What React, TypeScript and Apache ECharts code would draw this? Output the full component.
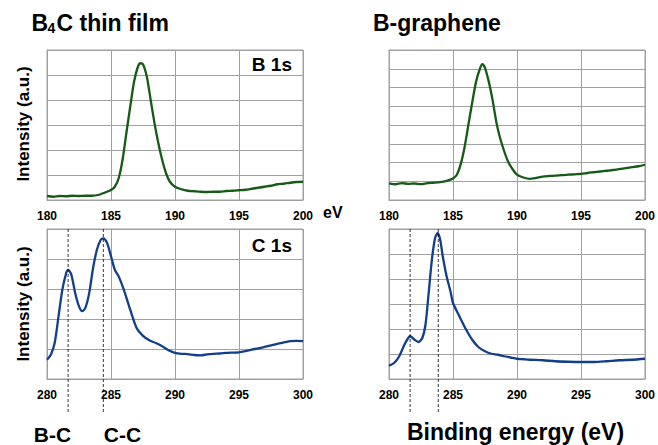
import React, { useEffect, useRef } from "react";
import * as echarts from "echarts";

// B 1s, B4C thin film
const b4cB1sEnergy = [180,180.5,181,181.5,182,182.5,183,183.5,184,184.5,185,185.3,185.6,185.9,186.2,186.5,186.8,187.1,187.3,187.5,187.8,188.1,188.4,188.7,189.0,189.3,189.6,190.0,190.5,191,191.5,192,192.5,193,193.5,194,194.5,195,195.5,196,196.5,197,197.5,198,198.5,199,199.5,200];
const b4cB1sIntensity = [0.16,0.13,0.16,0.15,0.17,0.16,0.17,0.17,0.2,0.29,0.4,0.53,0.87,1.6,2.67,3.73,4.73,5.33,5.47,5.43,4.93,4.0,3.07,2.27,1.6,1.07,0.73,0.53,0.43,0.37,0.35,0.33,0.32,0.33,0.33,0.36,0.37,0.39,0.41,0.45,0.49,0.53,0.57,0.63,0.65,0.69,0.72,0.73];

// B 1s, B-graphene
const bgrB1sEnergy = [180,180.5,181,181.5,182,182.5,183,183.5,184,184.5,185,185.3,185.6,185.9,186.2,186.5,186.8,187.1,187.3,187.5,187.8,188.1,188.4,188.7,189.0,189.3,189.6,190.0,190.5,191,191.5,192,192.5,193,193.5,194,194.5,195,195.5,196,196.5,197,197.5,198,198.5,199,199.5,200];
const bgrB1sIntensity = [0.89,0.84,0.9,0.86,0.88,0.85,0.9,0.92,0.95,1.02,1.15,1.35,1.9,2.8,4.0,5.2,6.3,7.0,7.25,7.05,6.3,5.3,4.1,3.25,2.6,2.05,1.7,1.35,1.2,1.13,1.18,1.25,1.28,1.3,1.33,1.35,1.37,1.39,1.44,1.48,1.52,1.56,1.6,1.65,1.7,1.75,1.8,1.88];

// C 1s, B4C thin film
const b4cC1sEnergy = [280,280.3,280.6,280.9,281.2,281.5,281.65,281.9,282.2,282.5,282.75,283.0,283.3,283.6,283.9,284.2,284.4,284.7,285.0,285.3,285.6,286.0,286.5,287,287.5,288,288.5,289,289.5,290,290.5,291,291.5,292,292.5,293,293.5,294,294.5,295,295.5,296,296.5,297,297.5,298,298.5,299,299.5,300];
const b4cC1sIntensity = [0.64,0.81,1.2,2.09,2.98,3.53,3.64,3.48,2.87,2.42,2.26,2.37,2.87,3.7,4.31,4.64,4.69,4.53,4.09,3.64,3.42,2.98,2.31,1.7,1.44,1.29,1.2,1.09,0.96,0.87,0.84,0.83,0.8,0.79,0.82,0.84,0.85,0.87,0.88,0.89,0.93,0.98,1.02,1.07,1.12,1.17,1.22,1.26,1.27,1.26];

// C 1s, B-graphene
const bgrC1sEnergy = [280,280.4,280.8,281.2,281.5,281.65,282.0,282.3,282.6,282.85,283.1,283.35,283.6,283.8,284.0,284.2,284.5,284.8,285.0,285.5,286,286.5,287,287.5,288,288.5,289,289.5,290,290.5,291,292,293,294,295,296,297,298,299,300];
const bgrC1sIntensity = [0.53,0.64,0.91,1.37,1.64,1.71,1.57,1.48,1.64,2.17,3.44,4.77,5.64,5.84,5.57,4.91,4.11,3.51,3.04,2.51,2.0,1.57,1.27,1.11,1.01,0.97,0.91,0.86,0.81,0.79,0.77,0.75,0.71,0.69,0.68,0.68,0.71,0.75,0.77,0.81];

// Reference peak positions (dashed lines)
const b4cPeakLines = [281.65, 284.4];
const bgrPeakLines = [281.65, 283.85];

const xTicksTop = { min: 180, max: 200, interval: 5 };
const xTicksBottom = { min: 280, max: 300, interval: 5 };
const yDivisions = [6, 8, 5, 6];

const FONT = 'Arial, "Liberation Sans", sans-serif';
const GREEN = "#155a15";
const BLUE = "#133e8a";
const GRID_COLOR = "#a0a0a0";

const zip = (a: number[], b: number[]) => a.map((v, i) => [v, b[i]]);

export default function App() {
  const ref = useRef<HTMLDivElement>(null);
  useEffect(() => {
    if (!ref.current) return;
    const chart = echarts.init(ref.current, null, { renderer: "svg" });
    const grids = [
      { left: 47, top: 50, width: 256, height: 150 },
      { left: 389, top: 50, width: 256, height: 150 },
      { left: 47, top: 229, width: 256, height: 150 },
      { left: 389, top: 229, width: 256, height: 150 },
    ].map((g) => ({ ...g, show: true, borderColor: GRID_COLOR, borderWidth: 1, containLabel: false }));
    const xAxis = [0, 1, 2, 3].map((i) => ({
      type: "value",
      gridIndex: i,
      ...(i < 2 ? xTicksTop : xTicksBottom),
      axisLine: { show: true, lineStyle: { color: GRID_COLOR } },
      axisTick: { show: false },
      splitLine: { show: true, lineStyle: { color: GRID_COLOR, width: 1 } },
      axisLabel: { show: true, margin: 10, color: "#000", fontWeight: "bold", fontSize: 12, fontFamily: FONT, showMinLabel: true, showMaxLabel: true },
    }));
    const yAxis = [0, 1, 2, 3].map((i) => ({
      type: "value",
      gridIndex: i,
      min: 0,
      max: yDivisions[i],
      interval: 1,
      axisLine: { show: true, lineStyle: { color: GRID_COLOR } },
      axisTick: { show: false },
      axisLabel: { show: false },
      splitLine: { show: true, lineStyle: { color: GRID_COLOR, width: 1 } },
    }));
    const mk = (i: number, e: number[], v: number[], color: string) => ({
      type: "line",
      xAxisIndex: i,
      yAxisIndex: i,
      data: zip(e, v),
      showSymbol: false,
      smooth: 0.25,
      lineStyle: { color, width: 2.3 },
      itemStyle: { color },
    });
    chart.setOption({
      animation: false,
      grid: grids,
      xAxis,
      yAxis,
      series: [
        mk(0, b4cB1sEnergy, b4cB1sIntensity, GREEN),
        mk(1, bgrB1sEnergy, bgrB1sIntensity, GREEN),
        mk(2, b4cC1sEnergy, b4cC1sIntensity, BLUE),
        mk(3, bgrC1sEnergy, bgrC1sIntensity, BLUE),
      ],
    });

    const txt = (text: string, x: number, y: number, size: number, align = "left", rotation = 0) => ({
      type: "text",
      x,
      y,
      rotation,
      style: {
        text,
        font: `bold ${size}px ${FONT}`,
        fill: "#000",
        textAlign: align,
        textVerticalAlign: "middle",
        align,
        verticalAlign: "middle",
      },
    });

    const dashed: any[] = [];
    b4cPeakLines.forEach((e) => {
      const x = chart.convertToPixel({ xAxisIndex: 2 }, e) as number;
      dashed.push({ type: "line", shape: { x1: x, y1: 229, x2: x, y2: 412 }, style: { stroke: "#000", lineWidth: 0.8, lineDash: [3, 2] }, z: 10 });
    });
    bgrPeakLines.forEach((e) => {
      const x = chart.convertToPixel({ xAxisIndex: 3 }, e) as number;
      dashed.push({ type: "line", shape: { x1: x, y1: 229, x2: x, y2: 412 }, style: { stroke: "#000", lineWidth: 0.8, lineDash: [3, 2] }, z: 10 });
    });

    chart.setOption({
      graphic: [
        txt("B", 31.5, 23, 23),
        txt("4", 47.5, 28, 14),
        txt("C thin film", 56.5, 23, 23),
        txt("B-graphene", 373, 23, 23),
        txt("B 1s", 292, 64, 19, "right"),
        txt("C 1s", 292, 245, 19, "right"),
        txt("eV", 323, 212, 16),
        txt("Intensity (a.u.)", 23, 124, 17, "center", Math.PI / 2),
        txt("Intensity (a.u.)", 23, 304, 17, "center", Math.PI / 2),
        txt("B-C", 52.5, 434, 21, "center"),
        txt("C-C", 122.5, 434, 21, "center"),
        txt("Binding energy (eV)", 515.5, 432, 23, "center"),
        ...dashed,
      ],
    });
    return () => chart.dispose();
  }, []);
  return <div ref={ref} style={{ position: "absolute", left: 0, top: 0, width: 658, height: 445, background: "#fff" }} />;
}
